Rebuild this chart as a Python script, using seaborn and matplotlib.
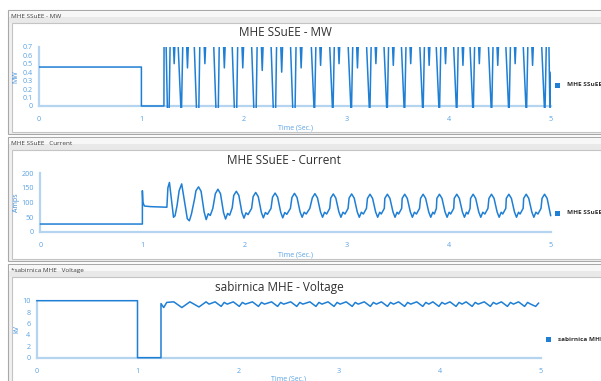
import matplotlib
matplotlib.use("Agg")
import matplotlib.pyplot as plt
import seaborn as sns
import pandas as pd
from matplotlib.patches import Rectangle
from matplotlib.transforms import Bbox, TransformedBbox

# ---------------- data ----------------
mw_time = [0, 1.0, 1.0, 1.22, 1.222,
           1.235, 1.255, 1.27, 1.285, 1.30, 1.32, 1.34,
           1.345, 1.39, 1.41, 1.43, 1.45, 1.47,
           1.505, 1.54, 1.56, 1.575, 1.60, 1.62, 1.64,
           1.695, 1.73, 1.75, 1.765, 1.79, 1.81, 1.83,
           1.875, 1.91, 1.93, 1.945, 1.97, 1.99, 2.01,
           2.065, 2.10, 2.12, 2.135, 2.16, 2.18, 2.20,
           2.255, 2.29, 2.31, 2.325, 2.35, 2.37, 2.39,
           2.445, 2.48, 2.50, 2.515, 2.54, 2.56, 2.58,
           2.645, 2.69, 2.71, 2.73, 2.75, 2.77,
           2.825, 2.87, 2.89, 2.91, 2.93, 2.95,
           3.005, 3.05, 3.07, 3.09, 3.11, 3.13,
           3.185, 3.23, 3.25, 3.27, 3.29, 3.31,
           3.355, 3.40, 3.42, 3.44, 3.46, 3.48,
           3.525, 3.57, 3.59, 3.61, 3.63, 3.65,
           3.705, 3.75, 3.77, 3.79, 3.81, 3.83,
           3.865, 3.91, 3.93, 3.95, 3.97, 3.99,
           4.035, 4.08, 4.10, 4.12, 4.14, 4.16,
           4.195, 4.24, 4.26, 4.28, 4.30, 4.32,
           4.375, 4.42, 4.44, 4.46, 4.48, 4.50,
           4.545, 4.59, 4.61, 4.63, 4.65, 4.67,
           4.715, 4.76, 4.78, 4.80, 4.82, 4.84,
           4.895, 4.94, 4.96, 4.975, 4.99, 5.0]
mw_value = [0.46, 0.46, 0.0, 0.0, 1.1,
            1.1, -0.1, -0.1, 1.1, 1.1, 0.5, 1.1,
            1.1, -0.15, 1.1, 1.1, 0.45, 1.1,
            1.1, -0.1, -0.1, 1.1, 1.1, 0.5, 1.1,
            1.1, -0.1, -0.1, 1.1, 1.1, 0.45, 1.1,
            1.1, -0.1, -0.1, 1.1, 1.1, 0.45, 1.1,
            1.1, -0.1, -0.1, 1.1, 1.1, 0.42, 1.1,
            1.1, -0.1, -0.1, 1.1, 1.1, 0.40, 1.1,
            1.1, -0.1, -0.1, 1.1, 1.1, 0.45, 1.1,
            1.1, -0.15, 1.1, 1.1, 0.48, 1.1,
            1.1, -0.15, 1.1, 1.1, 0.50, 1.1,
            1.1, -0.15, 1.1, 1.1, 0.45, 1.1,
            1.1, -0.15, 1.1, 1.1, 0.50, 1.1,
            1.1, -0.15, 1.1, 1.1, 0.48, 1.1,
            1.1, -0.15, 1.1, 1.1, 0.50, 1.1,
            1.1, -0.15, 1.1, 1.1, 0.48, 1.1,
            1.1, -0.15, 1.1, 1.1, 0.50, 1.1,
            1.1, -0.15, 1.1, 1.1, 0.48, 1.1,
            1.1, -0.15, 1.1, 1.1, 0.50, 1.1,
            1.1, -0.15, 1.1, 1.1, 0.48, 1.1,
            1.1, -0.15, 1.1, 1.1, 0.50, 1.1,
            1.1, -0.15, 1.1, 1.1, 0.48, 1.1,
            1.1, -0.15, 1.1, 1.1, -0.1, 0.4]

cur_time = [0, 1.0, 1.0, 1.005, 1.02, 1.08, 1.24,
            1.25, 1.265, 1.285, 1.305, 1.32, 1.34, 1.36,
            1.385, 1.41, 1.44, 1.46, 1.48, 1.51,
            1.525, 1.55, 1.575, 1.605, 1.625, 1.645, 1.665, 1.69,
            1.715, 1.74, 1.765, 1.795, 1.815, 1.835, 1.855, 1.88,
            1.895, 1.92, 1.945, 1.975, 1.995, 2.015, 2.035, 2.07,
            2.085, 2.11, 2.135, 2.165, 2.185, 2.205, 2.225, 2.26,
            2.275, 2.30, 2.325, 2.355, 2.375, 2.395, 2.415, 2.45,
            2.465, 2.49, 2.515, 2.545, 2.565, 2.585, 2.605, 2.64,
            2.665, 2.69, 2.715, 2.745, 2.765, 2.785, 2.805, 2.835,
            2.845, 2.87, 2.895, 2.925, 2.945, 2.965, 2.985, 3.015,
            3.025, 3.05, 3.075, 3.105, 3.125, 3.145, 3.165, 3.195,
            3.205, 3.23, 3.255, 3.285, 3.305, 3.325, 3.34, 3.37,
            3.375, 3.40, 3.425, 3.455, 3.475, 3.495, 3.51, 3.54,
            3.545, 3.57, 3.595, 3.625, 3.645, 3.665, 3.685, 3.715,
            3.725, 3.75, 3.775, 3.805, 3.825, 3.845, 3.86, 3.88,
            3.885, 3.91, 3.935, 3.965, 3.985, 4.005, 4.02, 4.05,
            4.055, 4.08, 4.105, 4.135, 4.155, 4.175, 4.19, 4.21,
            4.215, 4.24, 4.265, 4.295, 4.315, 4.335, 4.355, 4.385,
            4.395, 4.42, 4.445, 4.475, 4.495, 4.515, 4.53, 4.56,
            4.565, 4.59, 4.615, 4.645, 4.665, 4.685, 4.70, 4.73,
            4.735, 4.76, 4.785, 4.815, 4.835, 4.855, 4.875, 4.905,
            4.915, 4.94, 4.965, 5.0]
cur_value = [27, 27, 140, 100, 88, 86, 84,
             150, 168, 110, 50, 55, 90, 140,
             163, 110, 45, 38, 60, 110,
             140, 153, 138, 68, 42, 62, 56, 80,
             130, 145, 130, 66, 44, 63, 57, 82,
             124, 138, 124, 66, 47, 65, 59, 80,
             120, 134, 120, 67, 48, 66, 60, 80,
             118, 132, 118, 67, 48, 66, 60, 80,
             117, 131, 117, 68, 50, 67, 61, 80,
             116, 130, 116, 68, 50, 67, 61, 80,
             115, 129, 115, 68, 50, 67, 61, 80,
             115, 129, 115, 68, 50, 67, 61, 80,
             114, 128, 114, 68, 50, 67, 61, 80,
             114, 128, 114, 68, 50, 67, 61, 80,
             114, 128, 114, 68, 50, 67, 61, 80,
             114, 128, 114, 68, 50, 67, 61, 80,
             114, 128, 114, 68, 50, 67, 61, 80,
             114, 128, 114, 68, 50, 67, 61, 80,
             114, 128, 114, 68, 50, 67, 61, 80,
             114, 128, 114, 68, 50, 67, 61, 80,
             114, 128, 114, 68, 50, 67, 61, 80,
             114, 128, 114, 68, 50, 67, 61, 80,
             114, 128, 114, 55]

kv_time = [0, 1.0, 1.0, 1.233, 1.233, 1.26, 1.29, 1.36, 1.44, 1.52,
           1.61, 1.68, 1.71,
           1.77, 1.83, 1.86, 1.89,
           1.95, 2.01, 2.04, 2.07,
           2.14, 2.20, 2.23, 2.26,
           2.33, 2.39, 2.42, 2.45,
           2.52, 2.58, 2.61, 2.64,
           2.71, 2.77, 2.80, 2.83,
           2.89, 2.95, 2.98, 3.01,
           3.07, 3.13, 3.16, 3.19,
           3.25, 3.31, 3.34, 3.37,
           3.42, 3.48, 3.51, 3.54,
           3.59, 3.65, 3.68, 3.71,
           3.77, 3.83, 3.86, 3.89,
           3.93, 3.99, 4.02, 4.05,
           4.10, 4.16, 4.19, 4.22,
           4.26, 4.32, 4.35, 4.38,
           4.44, 4.50, 4.53, 4.56,
           4.61, 4.67, 4.70, 4.73,
           4.78, 4.84, 4.87, 4.90,
           4.95, 4.98]
kv_value = [10, 10, 0, 0, 9.5, 8.8, 9.7, 9.8, 8.8, 9.8,
            8.9, 9.8, 9.4,
            9.8, 9.0, 9.7, 9.4,
            9.8, 9.0, 9.7, 9.4,
            9.8, 9.0, 9.7, 9.4,
            9.8, 9.0, 9.7, 9.4,
            9.8, 9.0, 9.7, 9.4,
            9.8, 9.0, 9.7, 9.4,
            9.8, 9.0, 9.7, 9.4,
            9.8, 9.0, 9.7, 9.4,
            9.8, 9.0, 9.7, 9.4,
            9.8, 9.0, 9.7, 9.4,
            9.8, 9.0, 9.7, 9.4,
            9.8, 9.0, 9.7, 9.4,
            9.8, 9.0, 9.7, 9.4,
            9.8, 9.0, 9.7, 9.4,
            9.8, 9.0, 9.7, 9.4,
            9.8, 9.0, 9.7, 9.4,
            9.8, 9.0, 9.7, 9.4,
            9.8, 9.0, 9.7, 9.4,
            9.0, 9.6]

titles = ["MHE SSuEE - MW", "MHE SSuEE - Current", "sabirnica MHE - Voltage"]
headers = ["MHE SSuEE - MW", "MHE SSuEE   Current", "*sabirnica MHE   Voltage"]
ylabels = ["MW", "Amps", "kV"]
legend_names = ["MHE SSuEE - MW", "MHE SSuEE - Current", "sabirnica MHE - Voltage"]
mw_ticks = [0, 0.1, 0.2, 0.3, 0.4, 0.5, 0.6, 0.7]
cur_ticks = [0, 50, 100, 150, 200]
kv_ticks = [0, 2, 4, 6, 8, 10]
x_ticks = [0, 1, 2, 3, 4, 5]

# ---------------- style ----------------
sns.set_style("white")
plt.rcParams['font.family'] = ['Open Sans', 'DejaVu Sans']

W, H = 601, 381
LINE = '#1f7fd4'
SPINE = '#b5d4f0'
TICK = '#5aa2e2'
LAB = '#3d8fdc'

fig = plt.figure(figsize=(W / 100, H / 100), dpi=100)
bg = fig.add_axes([0, 0, 1, 1])
bg.set_xlim(0, W)
bg.set_ylim(H, 0)
bg.axis('off')

panels = [(10, 134), (137, 261), (264, 400)]
for (top, bot), hdr in zip(panels, headers):
    bg.add_patch(Rectangle((8, top), 700, bot - top, facecolor='#f0f0f0', edgecolor='#a8a8a8', lw=0.8))
    bg.add_patch(Rectangle((9, top + 1), 700, 6, facecolor='#f7f7f7', edgecolor='none'))
    bg.add_patch(Rectangle((9, top + 7), 700, 6, facecolor='#e9e9e9', edgecolor='none'))
    bg.add_patch(Rectangle((12, top + 13), 700, bot - top - 15, facecolor='white', edgecolor='#c4c4c4', lw=0.8))
    bg.text(11, top + 6.5, hdr, fontsize=4.6, color='#404040', va='center', ha='left')


def px_axes(left, right, top, bottom):
    return fig.add_axes([left / W, 1 - bottom / H, (right - left) / W, (bottom - top) / H])


specs = [
    dict(box=(39, 551, 46.7, 106), t=mw_time, v=mw_value, ylim=(0, 0.7), ticks=mw_ticks,
         fmt=lambda x: ('%g' % x), title_y=33, title_x=285, ylab_x=16,
         xl_y=128, leg=(557, 85), clip=True),
    dict(box=(40.3, 550.7, 173, 232), t=cur_time, v=cur_value, ylim=(0, 200), ticks=cur_ticks,
         fmt=lambda x: '%d' % x, title_y=160, title_x=284, ylab_x=17,
         xl_y=255, leg=(557, 213), clip=False),
    dict(box=(36.7, 540.7, 300.7, 357.7), t=kv_time, v=kv_value, ylim=(0, 10), ticks=kv_ticks,
         fmt=lambda x: '%d' % x, title_y=287, title_x=279, ylab_x=17,
         xl_y=379, leg=(548, 339), clip=False),
]

for i, s in enumerate(specs):
    l, r, t, b = s['box']
    ax = px_axes(l, r, t, b)
    ax.patch.set_alpha(0)
    df = pd.DataFrame({'time': s['t'], 'value': s['v']})
    sns.lineplot(data=df, x='time', y='value', ax=ax, color=LINE, lw=1.1, sort=False,
                 estimator=None)
    ln = ax.get_lines()[-1]
    ln.set_zorder(3)
    if s['clip']:
        ln.set_clip_box(TransformedBbox(Bbox.from_extents(0, -0.03, 1.0, 1.0), ax.transAxes))
    else:
        ln.set_clip_on(False)
    ax.set_xlim(0, 5)
    ax.set_ylim(*s['ylim'])
    ax.set_xticks(x_ticks)
    ax.set_xticklabels([str(x) for x in x_ticks])
    ax.set_yticks(s['ticks'])
    ax.set_yticklabels([s['fmt'](x) for x in s['ticks']])
    for side in ['top', 'right']:
        ax.spines[side].set_visible(False)
    for side in ['left', 'bottom']:
        ax.spines[side].set_color(SPINE)
        ax.spines[side].set_linewidth(1.6)
    ax.tick_params(axis='both', colors=SPINE, labelcolor=TICK, labelsize=5.2,
                   length=2.5, width=0.8, pad=2)
    ax.tick_params(axis='x', pad=5)
    ax.set_xlabel('')
    ax.set_ylabel('')
    bg.text(s['title_x'], s['title_y'], titles[i], fontsize=8.5, color='#303030',
            ha='center', va='center')
    bg.text(s['ylab_x'], (t + b) / 2, ylabels[i], fontsize=5, color=LAB, rotation=90,
            ha='center', va='center')
    bg.text((l + r) / 2, s['xl_y'], 'Time (Sec.)', fontsize=5, color=TICK,
            ha='center', va='center')
    lx, ly = s['leg']
    bg.add_patch(Rectangle((lx - 2.5, ly - 2.5), 5, 5, facecolor=LINE, edgecolor='none'))
    bg.text(lx + 10, ly, legend_names[i], fontsize=4.6, color='#303030',
            ha='left', va='center', fontweight='bold')

fig.savefig('out.png', dpi=100)
